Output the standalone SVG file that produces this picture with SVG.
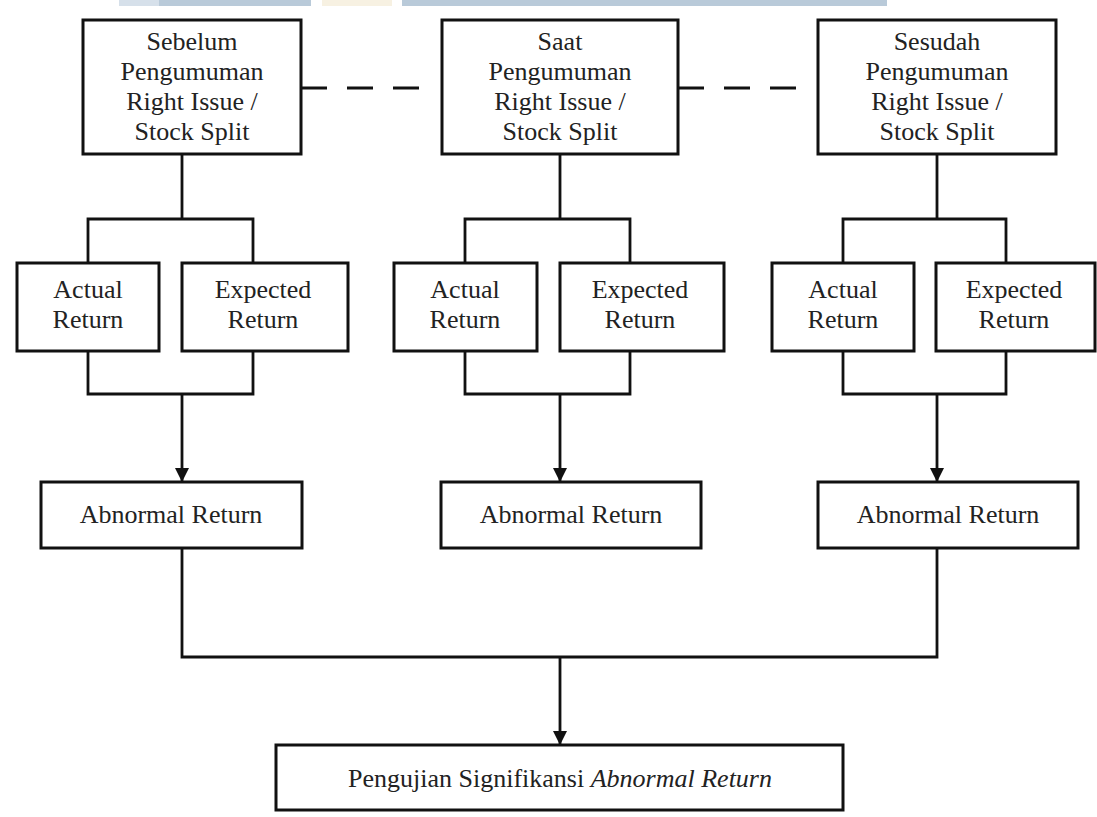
<svg xmlns="http://www.w3.org/2000/svg" width="1097" height="817" viewBox="0 0 1097 817">
<style>
.box{fill:#fff;stroke:#111;stroke-width:3}
.ln{fill:none;stroke:#111;stroke-width:2.8}
.dash{fill:none;stroke:#111;stroke-width:2.8;stroke-dasharray:26 20}
text{font-family:"Liberation Serif","Times New Roman",serif;font-size:26px;fill:#222;text-anchor:middle}
</style>
<defs>
<marker id="arr" markerWidth="16" markerHeight="16" refX="14" refY="7" orient="auto" markerUnits="userSpaceOnUse">
<path d="M0,0 L14,7 L0,14 Z" fill="#111"/>
</marker>
</defs>
<rect width="1097" height="817" fill="#fff"/>
<g id="band">
<rect x="119" y="0" width="40" height="6" fill="#d6e0ea"/>
<rect x="159" y="0" width="152" height="6" fill="#b9cad9"/>
<rect x="322" y="0" width="70" height="6" fill="#f7f1e2"/>
<rect x="402" y="0" width="485" height="6" fill="#b9cad9"/>
</g>
<g id="connectors">
<path class="dash" d="M301,88 H420"/>
<path class="dash" d="M678,88 H797"/>
<path class="ln" d="M182,154 V219 M88,263 V219 H253 V263"/>
<path class="ln" d="M88,351 V394 H253 V351"/>
<path class="ln" d="M182,394 V482" marker-end="url(#arr)"/>
<path class="ln" d="M560,154 V219 M465,263 V219 H630 V263"/>
<path class="ln" d="M465,351 V394 H630 V351"/>
<path class="ln" d="M560,394 V482" marker-end="url(#arr)"/>
<path class="ln" d="M937,154 V219 M843,263 V219 H1006 V263"/>
<path class="ln" d="M843,351 V394 H1006 V351"/>
<path class="ln" d="M937,394 V482" marker-end="url(#arr)"/>
<path class="ln" d="M182,548 V657 H937 V548"/>
<path class="ln" d="M560,657 V745" marker-end="url(#arr)"/>
</g>
<g id="sebelum">
<rect class="box" x="83" y="20" width="218" height="134"/>
<text x="192" y="50">Sebelum</text>
<text x="192" y="80">Pengumuman</text>
<text x="192" y="110">Right Issue /</text>
<text x="192" y="140">Stock Split</text>
</g>
<g id="saat">
<rect class="box" x="442" y="20" width="236" height="134"/>
<text x="560" y="50">Saat</text>
<text x="560" y="80">Pengumuman</text>
<text x="560" y="110">Right Issue /</text>
<text x="560" y="140">Stock Split</text>
</g>
<g id="sesudah">
<rect class="box" x="818" y="20" width="238" height="134"/>
<text x="937" y="50">Sesudah</text>
<text x="937" y="80">Pengumuman</text>
<text x="937" y="110">Right Issue /</text>
<text x="937" y="140">Stock Split</text>
</g>
<g id="actual1">
<rect class="box" x="17" y="263" width="142" height="88"/>
<text x="88" y="298">Actual</text>
<text x="88" y="328">Return</text>
</g>
<g id="expected1">
<rect class="box" x="182" y="263" width="166" height="88"/>
<text x="263" y="298">Expected</text>
<text x="263" y="328">Return</text>
</g>
<g id="actual2">
<rect class="box" x="394" y="263" width="143" height="88"/>
<text x="465" y="298">Actual</text>
<text x="465" y="328">Return</text>
</g>
<g id="expected2">
<rect class="box" x="560" y="263" width="164" height="88"/>
<text x="640" y="298">Expected</text>
<text x="640" y="328">Return</text>
</g>
<g id="actual3">
<rect class="box" x="772" y="263" width="142" height="88"/>
<text x="843" y="298">Actual</text>
<text x="843" y="328">Return</text>
</g>
<g id="expected3">
<rect class="box" x="936" y="263" width="159" height="88"/>
<text x="1014" y="298">Expected</text>
<text x="1014" y="328">Return</text>
</g>
<g id="abnormal1">
<rect class="box" x="41" y="482" width="261" height="66"/>
<text x="171" y="523">Abnormal Return</text>
</g>
<g id="abnormal2">
<rect class="box" x="441" y="482" width="260" height="66"/>
<text x="571" y="523">Abnormal Return</text>
</g>
<g id="abnormal3">
<rect class="box" x="818" y="482" width="260" height="66"/>
<text x="948" y="523">Abnormal Return</text>
</g>
<g id="pengujian">
<rect class="box" x="276" y="745" width="567" height="65"/>
<text x="560" y="787">Pengujian Signifikansi <tspan font-style="italic">Abnormal Return</tspan></text>
</g>
</svg>
